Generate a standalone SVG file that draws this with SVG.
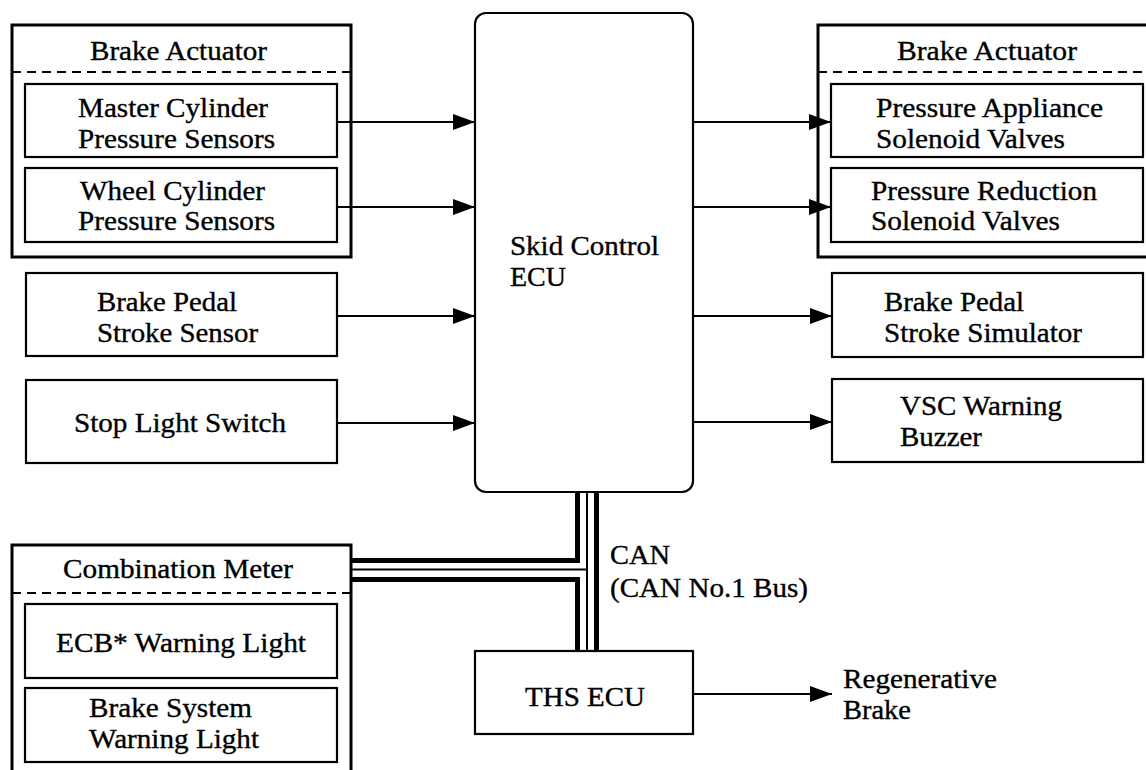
<svg xmlns="http://www.w3.org/2000/svg" width="1146" height="770" viewBox="0 0 1146 770">
<style>
text{font-family:"Times New Roman","Liberation Serif",Times,serif;font-size:27px;fill:#000;stroke:#000;stroke-width:0.35}
.outer{fill:none;stroke:#000;stroke-width:3}
.box{fill:#fff;stroke:#000;stroke-width:2.2}
.dash{stroke:#000;stroke-width:1.8;stroke-dasharray:9 6;fill:none}
.arrow{stroke:#000;stroke-width:2;fill:none;marker-end:url(#ah)}
.thick{stroke:#000;stroke-width:5;fill:none;stroke-linejoin:miter}
.thin{stroke:#000;stroke-width:2;fill:none}
</style>
<defs>
<marker id="ah" markerUnits="userSpaceOnUse" markerWidth="23" markerHeight="18" refX="22" refY="8" orient="auto">
<path d="M0,0 L22,8 L0,16 Z" fill="#000"/>
</marker>
</defs>
<rect width="1146" height="770" fill="#fff"/>

<g id="connectors">
<line class="arrow" x1="337" y1="122" x2="475" y2="122"/>
<line class="arrow" x1="337" y1="207" x2="475" y2="207"/>
<line class="arrow" x1="337" y1="316" x2="475" y2="316"/>
<line class="arrow" x1="337" y1="423" x2="475" y2="423"/>
<line class="arrow" x1="693" y1="122" x2="831" y2="122"/>
<line class="arrow" x1="693" y1="207" x2="831" y2="207"/>
<line class="arrow" x1="693" y1="316" x2="832" y2="316"/>
<line class="arrow" x1="693" y1="422" x2="832" y2="422"/>
<line class="arrow" x1="693" y1="694" x2="832" y2="694"/>
<g id="can-bus">
<path class="thick" d="M577.5,492 V560.5 H351"/>
<path class="thick" d="M351,579.5 H577.5 V651"/>
<path class="thick" d="M596.5,492 V651"/>
<path class="thin" d="M587,492 V651 M351,569.5 H587"/>
</g>
<text x="610" y="564" textLength="60" lengthAdjust="spacingAndGlyphs">CAN</text>
<text x="610" y="597" textLength="198" lengthAdjust="spacingAndGlyphs">(CAN No.1 Bus)</text>
<text x="843" y="688" textLength="154" lengthAdjust="spacingAndGlyphs">Regenerative</text>
<text x="843" y="719" textLength="68" lengthAdjust="spacingAndGlyphs">Brake</text>
</g>

<g id="brake-actuator-in">
<rect class="outer" x="12" y="25" width="339" height="232"/>
<line class="dash" x1="12" y1="72" x2="351" y2="72"/>
<text x="90" y="60" textLength="177" lengthAdjust="spacingAndGlyphs">Brake Actuator</text>
<g id="master-cylinder">
<rect class="box" x="25" y="84" width="312" height="73"/>
<text x="78" y="117" textLength="190" lengthAdjust="spacingAndGlyphs">Master Cylinder</text>
<text x="78" y="148" textLength="197" lengthAdjust="spacingAndGlyphs">Pressure Sensors</text>
</g>
<g id="wheel-cylinder">
<rect class="box" x="25" y="168" width="312" height="74"/>
<text x="80" y="200" textLength="185" lengthAdjust="spacingAndGlyphs">Wheel Cylinder</text>
<text x="78" y="230" textLength="197" lengthAdjust="spacingAndGlyphs">Pressure Sensors</text>
</g>
</g>

<g id="stroke-sensor">
<rect class="box" x="26" y="273" width="311" height="83"/>
<text x="97" y="311" textLength="140" lengthAdjust="spacingAndGlyphs">Brake Pedal</text>
<text x="97" y="342" textLength="161" lengthAdjust="spacingAndGlyphs">Stroke Sensor</text>
</g>

<g id="stop-light-switch">
<rect class="box" x="26" y="380" width="311" height="83"/>
<text x="74" y="432" textLength="212" lengthAdjust="spacingAndGlyphs">Stop Light Switch</text>
</g>

<g id="skid-control-ecu">
<rect class="box" x="475" y="13" width="218" height="479" rx="11" ry="11"/>
<text x="510" y="255" textLength="149" lengthAdjust="spacingAndGlyphs">Skid Control</text>
<text x="510" y="286" textLength="56" lengthAdjust="spacingAndGlyphs">ECU</text>
</g>

<g id="brake-actuator-out">
<rect class="outer" x="818" y="25" width="345" height="232"/>
<line class="dash" x1="818" y1="72" x2="1146" y2="72"/>
<text x="897" y="60" textLength="180" lengthAdjust="spacingAndGlyphs">Brake Actuator</text>
<g id="pressure-appliance">
<rect class="box" x="831" y="84" width="312" height="73"/>
<text x="876" y="117" textLength="227" lengthAdjust="spacingAndGlyphs">Pressure Appliance</text>
<text x="876" y="148" textLength="189" lengthAdjust="spacingAndGlyphs">Solenoid Valves</text>
</g>
<g id="pressure-reduction">
<rect class="box" x="831" y="168" width="312" height="74"/>
<text x="871" y="200" textLength="226" lengthAdjust="spacingAndGlyphs">Pressure Reduction</text>
<text x="871" y="230" textLength="189" lengthAdjust="spacingAndGlyphs">Solenoid Valves</text>
</g>
</g>

<g id="stroke-simulator">
<rect class="box" x="832" y="273" width="311" height="84"/>
<text x="884" y="311" textLength="140" lengthAdjust="spacingAndGlyphs">Brake Pedal</text>
<text x="884" y="342" textLength="198" lengthAdjust="spacingAndGlyphs">Stroke Simulator</text>
</g>

<g id="vsc-buzzer">
<rect class="box" x="832" y="379" width="311" height="83"/>
<text x="900" y="415" textLength="162" lengthAdjust="spacingAndGlyphs">VSC Warning</text>
<text x="900" y="446" textLength="82" lengthAdjust="spacingAndGlyphs">Buzzer</text>
</g>

<g id="combination-meter">
<rect class="outer" x="12" y="545" width="339" height="240"/>
<line class="dash" x1="12" y1="593" x2="351" y2="593"/>
<text x="63" y="578" textLength="230" lengthAdjust="spacingAndGlyphs">Combination Meter</text>
<g id="ecb-warning">
<rect class="box" x="25" y="604" width="312" height="74"/>
<text x="56" y="652" textLength="250" lengthAdjust="spacingAndGlyphs">ECB* Warning Light</text>
</g>
<g id="brake-system-warning">
<rect class="box" x="25" y="688" width="312" height="74"/>
<text x="89" y="717" textLength="163" lengthAdjust="spacingAndGlyphs">Brake System</text>
<text x="89" y="748" textLength="170" lengthAdjust="spacingAndGlyphs">Warning Light</text>
</g>
</g>

<g id="ths-ecu">
<rect class="box" x="475" y="651" width="218" height="83"/>
<text x="525" y="706" textLength="120" lengthAdjust="spacingAndGlyphs">THS ECU</text>
</g>
</svg>
